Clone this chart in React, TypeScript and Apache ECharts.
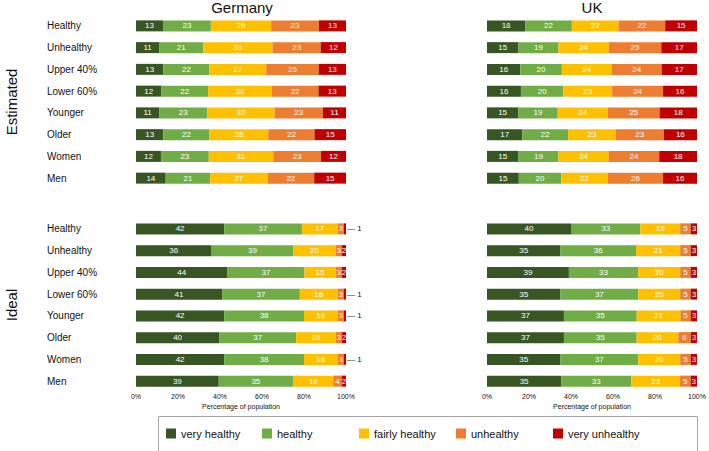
import React, { useEffect, useRef } from "react";
import * as echarts from "echarts";

const categories = ["Healthy", "Unhealthy", "Upper 40%", "Lower 60%", "Younger", "Older", "Women", "Men"];
const levels = ["very healthy", "healthy", "fairly healthy", "unhealthy", "very unhealthy"];
const levelColors = ["#375623", "#70AD47", "#FFC000", "#ED7D31", "#C00000"];
const xTicks = [0, 20, 40, 60, 80, 100];

// rows follow categories, columns follow levels
const germanyEstimated = [
  [13, 23, 29, 23, 13],
  [11, 21, 33, 23, 12],
  [13, 22, 27, 25, 13],
  [12, 22, 30, 22, 13],
  [11, 23, 32, 23, 11],
  [13, 22, 28, 22, 15],
  [12, 23, 31, 23, 12],
  [14, 21, 27, 22, 15],
];
const ukEstimated = [
  [18, 22, 22, 22, 15],
  [15, 19, 24, 25, 17],
  [16, 20, 24, 24, 17],
  [16, 20, 23, 24, 16],
  [15, 19, 24, 25, 18],
  [17, 22, 23, 23, 16],
  [15, 19, 24, 24, 18],
  [15, 20, 22, 26, 16],
];
const germanyIdeal = [
  [42, 37, 17, 3, 1],
  [36, 39, 20, 3, 2],
  [44, 37, 15, 3, 2],
  [41, 37, 18, 3, 1],
  [42, 38, 16, 3, 1],
  [40, 37, 19, 3, 2],
  [42, 38, 16, 3, 1],
  [39, 35, 19, 4, 2],
];
const ukIdeal = [
  [40, 33, 19, 5, 3],
  [35, 36, 21, 5, 3],
  [39, 33, 20, 5, 3],
  [35, 37, 20, 5, 3],
  [37, 35, 21, 5, 3],
  [37, 35, 20, 6, 3],
  [35, 37, 20, 5, 3],
  [35, 33, 23, 5, 3],
];

const FONT = "'Liberation Sans', Arial, Helvetica, sans-serif";

export default function App() {
  const ref = useRef<HTMLDivElement>(null);

  useEffect(() => {
    if (!ref.current) return;
    const chart = echarts.init(ref.current, null, { renderer: "svg" });

    const panels = [
      { rows: germanyEstimated, left: 136, top: 15, showY: true, showX: false },
      { rows: ukEstimated, left: 487, top: 15, showY: false, showX: false },
      { rows: germanyIdeal, left: 136, top: 218, showY: true, showX: true },
      { rows: ukIdeal, left: 487, top: 218, showY: false, showX: true },
    ];

    const grid = panels.map((p) => ({ left: p.left, top: p.top, width: 210, height: 174 }));

    const xAxis = panels.map((p, i) => ({
      type: "value",
      gridIndex: i,
      min: 0,
      max: 100,
      interval: 20,
      show: p.showX,
      axisLine: { show: false },
      axisTick: { show: false },
      splitLine: { show: false },
      axisLabel: {
        show: p.showX,
        formatter: (v: number) => (xTicks.includes(v) ? v + "%" : ""),
        fontSize: 7,
        color: "#111",
        fontFamily: FONT,
        margin: 1,
      },
      name: p.showX ? "Percentage of population" : "",
      nameLocation: "middle",
      nameGap: 11,
      nameTextStyle: { fontSize: 7, color: "#111", fontFamily: FONT },
    }));

    const yAxis = panels.map((p, i) => ({
      type: "category",
      gridIndex: i,
      data: categories,
      inverse: true,
      axisLine: { show: false },
      axisTick: { show: false },
      splitLine: { show: false },
      axisLabel: {
        show: p.showY,
        align: "left",
        margin: 89,
        fontSize: 10,
        color: "#111",
        fontFamily: FONT,
      },
    }));

    const series: any[] = [];
    panels.forEach((p, pi) => {
      levels.forEach((lv, li) => {
        series.push({
          type: "bar",
          name: lv,
          stack: "s" + pi,
          xAxisIndex: pi,
          yAxisIndex: pi,
          barWidth: 11,
          itemStyle: { color: levelColors[li] },
          label: {
            show: true,
            position: "inside",
            color: "#fff",
            fontSize: 8,
            fontFamily: FONT,
            formatter: (params: any) => String(params.data.raw),
          },
          data: p.rows.map((row) => {
            const sum = row.reduce((a, b) => a + b, 0);
            const item: any = { value: (row[li] * 100) / sum, raw: row[li] };
            if (row[li] <= 1) {
              item.label = {
                show: true,
                position: "right",
                distance: 1,
                color: "#111",
                fontSize: 8,
                formatter: "— " + row[li],
              };
            }
            return item;
          }),
        });
      });
    });

    const legendX = [166, 262, 359, 456, 553];
    const legend = levels.map((lv, i) => ({
      data: [lv],
      left: legendX[i],
      top: 428,
      padding: 0,
      itemWidth: 10,
      itemHeight: 10,
      itemGap: 5,
      icon: "rect",
      selectedMode: false,
      textStyle: { fontSize: 11, color: "#111", fontFamily: FONT, padding: [0, 0, 0, 0] },
    }));

    chart.setOption({
      animation: false,
      backgroundColor: "#fff",
      textStyle: { fontFamily: FONT },
      grid,
      xAxis,
      yAxis,
      series,
      legend,
      title: [
        { text: "Germany", left: 242, top: 0, textAlign: "center", padding: 0, textStyle: { fontSize: 15, fontWeight: "normal", color: "#111", fontFamily: FONT } },
        { text: "UK", left: 592, top: 0, textAlign: "center", padding: 0, textStyle: { fontSize: 15, fontWeight: "normal", color: "#111", fontFamily: FONT } },
      ],
      graphic: [
        {
          type: "text",
          x: 11,
          y: 102,
          rotation: Math.PI / 2,
          style: { text: "Estimated", fontSize: 15, fill: "#111", fontFamily: FONT, align: "center", verticalAlign: "middle" },
        },
        {
          type: "text",
          x: 11,
          y: 305,
          rotation: Math.PI / 2,
          style: { text: "Ideal", fontSize: 15, fill: "#111", fontFamily: FONT, align: "center", verticalAlign: "middle" },
        },
        {
          type: "rect",
          shape: { x: 158.5, y: 416.5, width: 539, height: 60 },
          style: { fill: "none", stroke: "#a6a6a6", lineWidth: 1 },
          silent: true,
        },
      ],
    });

    return () => chart.dispose();
  }, []);

  return (
    <div
      ref={ref}
      style={{ position: "fixed", left: 0, top: 0, width: 709, height: 451 }}
    />
  );
}
